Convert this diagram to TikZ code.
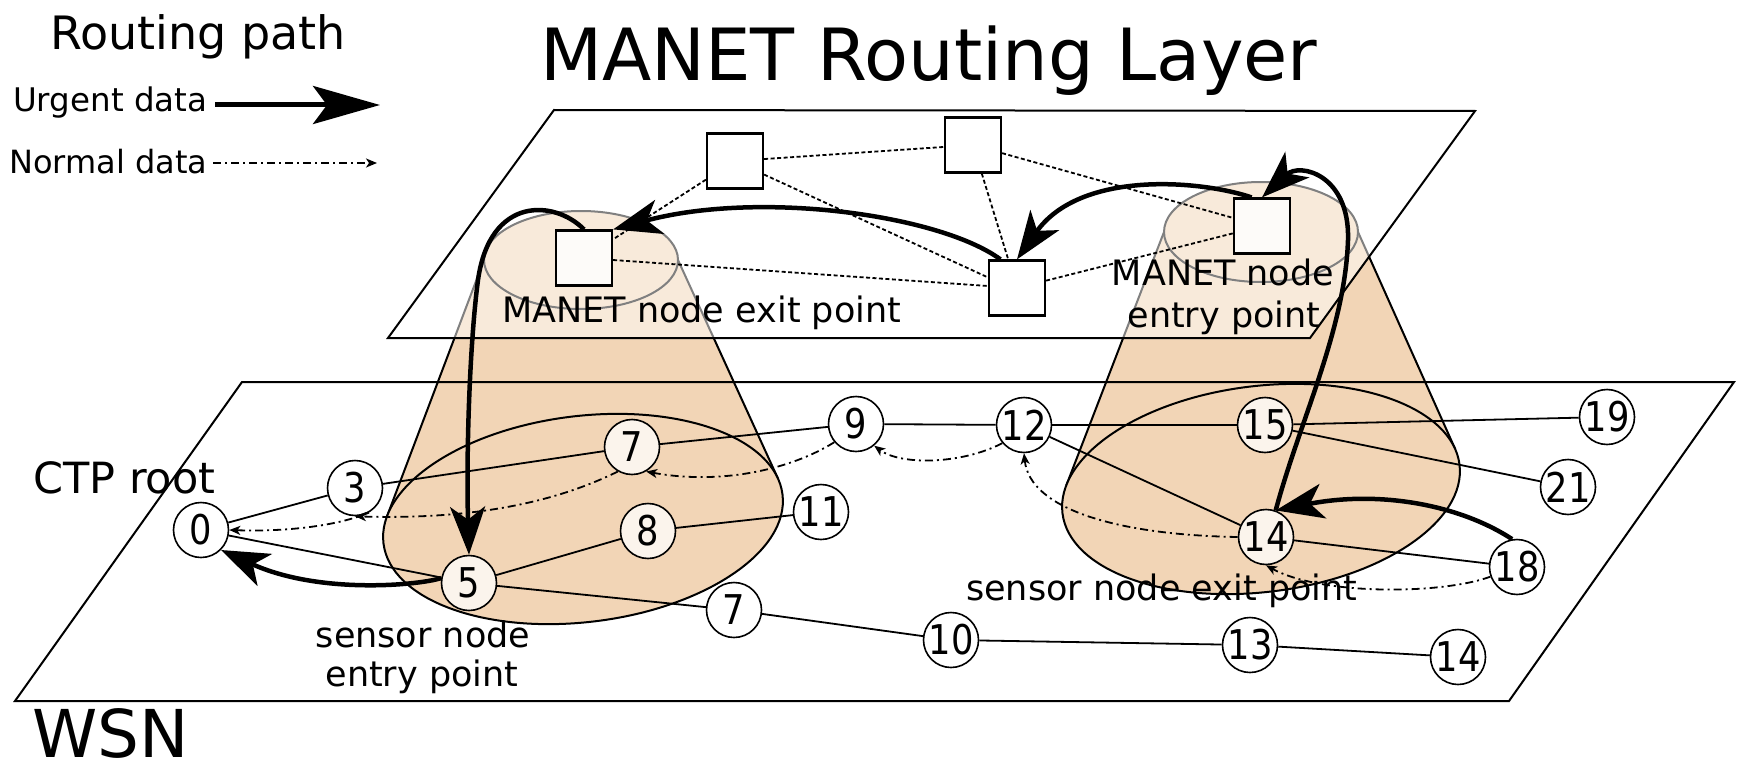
\documentclass[tikz,border=0pt]{standalone}
\usepackage{fontspec}
\setmainfont{DejaVu Sans}
\newfontfamily\numfont[FakeStretch=0.86]{DejaVu Sans}
\usetikzlibrary{arrows.meta}
\newcommand{\fsz}[1]{\fontsize{#1}{#1}\selectfont}
\definecolor{peach}{RGB}{242,213,182}
\begin{document}
\begin{tikzpicture}[x=1pt,y=-1pt,
  sn/.style={circle, draw, line width=1.6pt, minimum size=55pt, inner sep=0pt,
     fill=white, fill opacity=0.75, text opacity=1, font=\numfont\fsz{41pt}},
  mn/.style={rectangle, draw, line width=2.2pt, minimum width=56pt, minimum height=55pt,
     inner sep=0pt, fill=white, fill opacity=0.85},
  urgent/.style={line width=4.5pt, -{Stealth[length=48pt,width=35pt,inset=13pt]}},
  normal/.style={line width=1.8pt, dash pattern=on 8pt off 4pt on 2pt off 4pt,
     -{Stealth[length=11pt,width=9pt,inset=3pt]}},
  link/.style={line width=1.8pt},
  mlink/.style={line width=1.8pt, dash pattern=on 4pt off 2.5pt},
  conefill/.style={fill=peach},
  coneline/.style={line width=2pt},
  lbl/.style={inner sep=0pt, font=\fsz{35pt}}
]
\useasboundingbox (0,0) rectangle (1739,773);
\fill[white] (0,0) rectangle (1739,773);

% ---- cones ----
\fill[conefill] (484,260) -- (387.1,516.1) -- (777.9,478.4) -- (678,260) -- cycle;
\draw[coneline] (484,260) -- (387.1,516.1) (678,260) -- (777.9,478.4);
\fill[conefill] (581,260) ellipse [x radius=97, y radius=49];
\draw[coneline] (581,260) ellipse [x radius=97, y radius=49];
\draw[coneline, fill=peach, rotate around={7:(583,519)}] (583,519) ellipse [x radius=201, y radius=103];

\fill[conefill] (1164,232) -- (1066.3,485.4) -- (1455.1,448.9) -- (1358,232) -- cycle;
\draw[coneline] (1164,232) -- (1066.3,485.4) (1358,232) -- (1455.1,448.9);
\fill[conefill] (1261,232) ellipse [x radius=97, y radius=50];
\draw[coneline] (1261,232) ellipse [x radius=97, y radius=50];
\draw[coneline, fill=peach, rotate around={7:(1261,489)}] (1261,489) ellipse [x radius=200, y radius=103];

% ---- planes ----
\draw[line width=2pt] (242,382) -- (1734,382) -- (1509,701) -- (15,701) -- cycle;
\draw[line width=2pt, fill=white, fill opacity=0.5] (554,110) -- (1475,111) -- (1310,338) -- (388,338) -- cycle;

% ---- sensor nodes ----
\node[sn] (n0)  at (201,530) {0};
\node[sn] (n3)  at (355,488) {3};
\node[sn] (n7a) at (632,447) {7};
\node[sn] (n8)  at (648,531) {8};
\node[sn] (n5)  at (469,583) {5};
\node[sn] (n7b) at (734,610) {7};
\node[sn] (n11) at (821,512) {11};
\node[sn] (n9)  at (856,424) {9};
\node[sn] (n12) at (1024,425) {12};
\node[sn] (n15) at (1265,425) {15};
\node[sn] (n19) at (1607,417) {19};
\node[sn] (n21) at (1568,487) {21};
\node[sn] (n14a) at (1266,537) {14};
\node[sn] (n18) at (1517,567) {18};
\node[sn] (n10) at (951,640) {10};
\node[sn] (n13) at (1250,645) {13};
\node[sn] (n14b) at (1458,657) {14};

\draw[link] (n0) -- (n3);
\draw[link] (n3) -- (n7a);
\draw[link] (n7a) -- (n9);
\draw[link] (n0) -- (n5);
\draw[link] (n5) -- (n8);
\draw[link] (n8) -- (n11);
\draw[link] (n5) -- (n7b);
\draw[link] (n7b) -- (n10);
\draw[link] (n9) -- (n12);
\draw[link] (n12) -- (n15);
\draw[link] (n15) -- (n19);
\draw[link] (n15) -- (n21);
\draw[link] (n12) -- (n14a);
\draw[link] (n14a) -- (n18);
\draw[link] (n10) -- (n13);
\draw[link] (n13) -- (n14b);

% ---- MANET nodes ----
\node[mn] (A) at (735,161) {};
\node[mn] (C) at (973,145) {};
\node[mn] (B) at (584,258) {};
\node[mn] (D) at (1017,288) {};
\node[mn] (E) at (1262,226) {};

\draw[mlink] (A) -- (C);
\draw[mlink] (A) -- (B);
\draw[mlink] (A.-25) -- (D.160);
\draw[mlink] (B) -- (D);
\draw[mlink] (C) -- (D);
\draw[mlink] (C) -- (E);
\draw[mlink] (D) -- (E);

% ---- normal data paths ----
\draw[normal] (n18.200) .. controls (1440,595) and (1320,595) .. (n14a.south);
\draw[normal] (n14a.west) .. controls (1120,535) and (1030,510) .. (n12.south);
\draw[normal] (n12.220) .. controls (960,465) and (900,465) .. (n9.310);
\draw[normal] (n9.220) .. controls (790,470) and (720,485) .. (n7a.300);
\draw[normal] (n7a.240) .. controls (560,500) and (480,520) .. (n3.south);
\draw[normal] (n3.300) .. controls (340,525) and (290,532) .. (n0.east);

% ---- urgent data paths ----
\draw[urgent] (n18.100) .. controls (1460,505) and (1380,490) .. (n14a.70);
\draw[urgent] (n14a.70) .. controls (1300,420) and (1345,330) .. (1348,240)
   .. controls (1350,175) and (1300,162) .. (E.north);
\draw[urgent] (E.110) .. controls (1200,180) and (1080,170) .. (D.north);
\draw[urgent] (D.120) .. controls (940,215) and (760,190) .. (B.north east);
\draw[urgent] (B.north) .. controls (555,200) and (490,195) .. (478,280)
   .. controls (470,340) and (466,450) .. (n5.north);
\draw[urgent] (n5.170) .. controls (420,585) and (320,595) .. (n0.south east);

% ---- legend ----
\node[inner sep=0pt, anchor=base west, font=\fsz{46pt}] (rp) at (50,50) {Routing path};
\node[inner sep=0pt, anchor=base west, font=\fsz{32.5pt}] (ud) at (13,112) {Urgent data};
\node[inner sep=0pt, anchor=base west, font=\fsz{32pt}] (nd) at (9,173) {Normal data};
\coordinate (ua) at (215,105);
\coordinate (ub) at (380,105);
\coordinate (na) at (213,163);
\coordinate (nb) at (377,163);
\draw[line width=5pt, -{Stealth[length=67pt,width=38pt,inset=14pt]}] (ua) -- (ub);
\draw[normal] (na) -- (nb);

% ---- labels ----
\node[inner sep=0pt, anchor=base west, font=\fsz{72pt}] (title) at (540,81) {MANET Routing Layer};
\node[inner sep=0pt, anchor=base west, font=\fsz{66pt}] (wsn) at (32,757) {WSN};
\node[lbl, anchor=base west, font=\fsz{43pt}] (ctp) at (33,493) {CTP root};
\node[lbl, anchor=base west] (mexit) at (502,322) {MANET node exit point};
\node[lbl, anchor=base] (ment1) at (1223,285) {MANET node};
\node[lbl, anchor=base] (ment2) at (1224,327) {entry point};
\node[lbl, anchor=base] (sent1) at (423,647) {sensor node};
\node[lbl, anchor=base] (sent2) at (422,686) {entry point};
\node[lbl, anchor=base west] (sexit) at (966,600) {sensor node exit point};
\end{tikzpicture}
\end{document}
